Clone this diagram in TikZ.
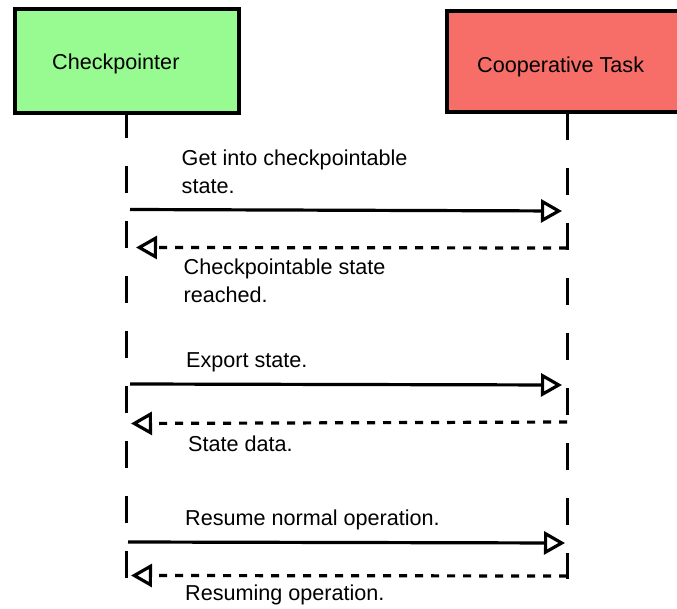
\documentclass[tikz,border=0pt]{standalone}
\usepackage{fontspec}
\setmainfont{Liberation Sans}
\usetikzlibrary{arrows.meta}
\definecolor{cpgreen}{RGB}{152,251,146}
\definecolor{ctred}{RGB}{247,110,104}
\begin{document}
\begin{tikzpicture}[x=1pt,y=-1pt,
  box/.style={draw=black, line width=4pt, inner sep=0pt, rectangle},
  lbl/.style={inner sep=0pt, font=\fontsize{21.6}{28.4}\selectfont, align=left, anchor=base west},
  lifeline/.style={line width=3pt, dash pattern=on 27pt off 28pt},
  msg/.style={line width=3.2pt, -{Triangle[open,length=21pt,width=23pt]}},
  reply/.style={msg, dash pattern=on 8pt off 8pt}]
\useasboundingbox (0,0) rectangle (677,609);
\clip (0,0) rectangle (677,609);
% participants
\node[box, fill=cpgreen, minimum width=224pt, minimum height=104pt] (cp) at (126.5,61) {};
\node[box, fill=ctred, minimum width=241pt, minimum height=100.5pt] (ct) at (567,61.75) {};
\node[lbl] (cptext) at (52,70) {Checkpointer};
\node[lbl] (cttext) at (477,72.7) {Cooperative Task};
% lifelines
\coordinate (cpEnd) at (126.5,578);
\coordinate (ctEnd) at (567,579);
\draw[lifeline, dash phase=4pt] (cp.south) -- (cpEnd);
\draw[lifeline, dash phase=1pt] (ct.south) -- (ctEnd);
% message end points
\coordinate (m1a) at (130,209.5); \coordinate (m1b) at (562,211);
\coordinate (m2a) at (567,248);   \coordinate (m2b) at (136,247.5);
\coordinate (m3a) at (130,384);   \coordinate (m3b) at (562,385);
\coordinate (m4a) at (567,422);   \coordinate (m4b) at (131,423.5);
\coordinate (m5a) at (128,542);   \coordinate (m5b) at (565,543);
\coordinate (m6a) at (567,576);   \coordinate (m6b) at (131,575.5);
% messages
\draw[msg]   (m1a) -- (m1b);
\draw[reply] (m2a) -- (m2b);
\draw[msg]   (m3a) -- (m3b);
\draw[reply] (m4a) -- (m4b);
\draw[msg]   (m5a) -- (m5b);
\draw[reply] (m6a) -- (m6b);
% labels
\node[lbl] (l1) at (181.5,194) {Get into checkpointable\\state.};
\node[lbl] (l2) at (183.5,303) {Checkpointable state\\reached.};
\node[lbl] (l3) at (186,367) {Export state.};
\node[lbl] (l4) at (188,451) {State data.};
\node[lbl] (l5) at (185,525) {Resume normal operation.};
\node[lbl] (l6) at (185,600) {Resuming operation.};
\end{tikzpicture}
\end{document}
